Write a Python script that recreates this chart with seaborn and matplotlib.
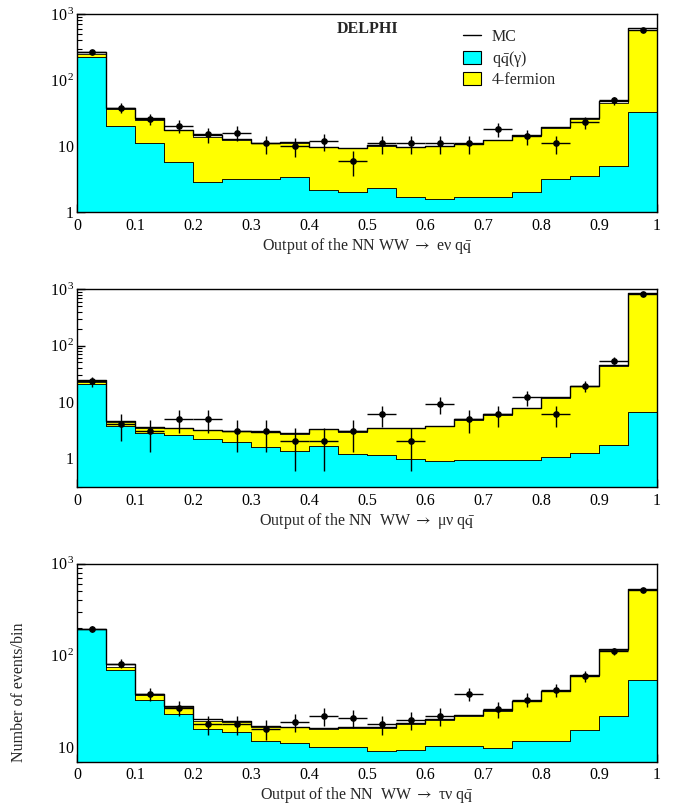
import numpy as np
import pandas as pd
import matplotlib
matplotlib.use("Agg")
import matplotlib.pyplot as plt
import seaborn as sns
from matplotlib.lines import Line2D
from matplotlib.patches import Patch
from matplotlib.ticker import FixedLocator, LogLocator, FuncFormatter, NullFormatter, MultipleLocator

# ---------------- data ----------------
bin_lo = [0.00, 0.05, 0.10, 0.15, 0.20, 0.25, 0.30, 0.35, 0.40, 0.45,
          0.50, 0.55, 0.60, 0.65, 0.70, 0.75, 0.80, 0.85, 0.90, 0.95]
bin_width = 0.05

# panel 1 : WW -> e nu qq
e_qq    = [222, 20.2, 11.0, 5.67, 2.89, 3.17, 3.13, 3.40, 2.16, 1.99,
           2.29, 1.67, 1.56, 1.67, 1.67, 2.04, 3.17, 3.48, 4.99, 33.3]
e_4f    = [29, 16.8, 13.6, 11.8, 10.7, 9.3, 7.9, 7.9, 7.5, 7.5,
           7.7, 8.0, 8.3, 9.0, 10.5, 12.4, 15.8, 22.5, 40.6, 545]
e_mc    = [265, 38.3, 26.4, 17.5, 14.7, 12.7, 11.3, 11.5, 9.7, 9.47,
           10.2, 9.8, 10.0, 10.8, 12.4, 14.6, 19.3, 26.4, 48.9, 605]
e_data  = [270, 38, 26, 20, 15, 16, 11, 10, 12, 6,
           11, 11, 11, 11, 18, 14, 11, 23, 49, 565]

# panel 2 : WW -> mu nu qq
mu_qq   = [21, 3.76, 2.78, 2.6, 2.21, 1.9, 1.57, 1.31, 1.66, 1.19,
           1.11, 0.946, 0.872, 0.934, 0.91, 0.91, 1.04, 1.24, 1.68, 6.58]
mu_4f   = [1.5, 0.54, 0.62, 0.86, 0.98, 1.1, 1.31, 1.41, 1.59, 1.76,
           2.29, 2.45, 2.83, 3.87, 4.99, 6.69, 10.76, 17.76, 41.3, 808]
mu_mc   = [24.4, 4.55, 3.56, 3.46, 3.19, 3.02, 2.90, 2.75, 3.28, 2.98,
           3.42, 3.42, 3.71, 4.87, 5.98, 7.74, 12.0, 19.3, 45, 860]
mu_data = [23, 4, 3, 5, 5, 3, 3, 2, 2, 3,
           6, 2, 9, 5, 6, 12, 6, 19, 54, 825]

# panel 3 : WW -> tau nu qq
tau_qq  = [194, 69.8, 32.8, 22.9, 15.7, 14.6, 11.9, 11.1, 10.1, 10.1,
           9.12, 9.27, 10.3, 10.3, 9.84, 11.9, 11.9, 15.6, 21.8, 54.7]
tau_4f  = [1, 6.2, 4.2, 4.4, 3.9, 4.4, 4.8, 5.4, 5.7, 6.0,
           7.1, 8.7, 9.6, 11.9, 15.4, 19.8, 28.9, 44.9, 93.2, 461]
tau_mc  = [197, 81.9, 38.2, 28.2, 20.2, 19.5, 17.1, 16.8, 16.1, 16.6,
           16.5, 18.3, 20.2, 22.5, 25.6, 32.3, 41.5, 61.5, 117, 533]
tau_data = [196, 82, 38, 27, 18, 18, 16, 19, 22, 21,
            18, 20, 22, 38, 26, 33, 42, 60, 111, 512]

xlabels = ["Output of the NN WW $\\rightarrow$ e\u03bd q$\\bar{\\rm q}$",
           "Output of the NN  WW $\\rightarrow$ \u03bc\u03bd q$\\bar{\\rm q}$",
           "Output of the NN  WW $\\rightarrow$ \u03c4\u03bd q$\\bar{\\rm q}$"]
ylims = [(1, 1000), (0.3, 1000), (7, 1000)]
ytick_vals = [[1, 10, 100, 1000], [1, 10, 100, 1000], [10, 100, 1000]]
legend_labels = ["MC", "q$\\bar{\\rm q}$(\u03b3)", "4-fermion"]

CYAN = "#00ffff"
YELLOW = "#ffff00"

# ---------------- style ----------------
sns.set_theme(style="ticks")
plt.rcParams["font.family"] = ["Liberation Serif", "DejaVu Serif"]
plt.rcParams["mathtext.fontset"] = "stix"
plt.rcParams["font.size"] = 11.5

fig = plt.figure(figsize=(6.75, 8.08), dpi=100)
bottoms = [0.7376, 0.3969, 0.0573]
axes = [fig.add_axes([0.1141, b, 0.8593, 0.2450]) for b in bottoms]

edges = bin_lo + [bin_lo[-1] + bin_width]
centers = [lo + bin_width / 2 for lo in bin_lo]

panels = [(e_qq, e_4f, e_mc, e_data),
          (mu_qq, mu_4f, mu_mc, mu_data),
          (tau_qq, tau_4f, tau_mc, tau_data)]


def ylab(v, pos):
    if v == 1:
        return r"$\mathregular{1}\ \ \ $"
    if v == 10:
        return r"$\mathregular{10}\ \ \ $"
    return r"$\mathregular{10^{\,%d}}$" % int(round(np.log10(v)))


for i, (ax, (qq, f4, mc, data)) in enumerate(zip(axes, panels)):
    df = pd.DataFrame({
        "x": centers * 2,
        "w": list(qq) + list(f4),
        "comp": ["qq"] * len(qq) + ["4f"] * len(f4),
    })
    sns.histplot(data=df, x="x", weights="w", hue="comp", hue_order=["4f", "qq"],
                 palette={"4f": YELLOW, "qq": CYAN}, bins=edges, multiple="stack",
                 element="step", fill=True, alpha=1, edgecolor="black",
                 linewidth=0.6, legend=False, ax=ax)
    sns.histplot(x=centers, weights=mc, bins=edges, element="step", fill=False,
                 color="black", linewidth=1.0, ax=ax)
    err = np.sqrt(np.array(data, dtype=float))
    ax.errorbar(centers, data, xerr=bin_width / 2, yerr=err, fmt="o",
                color="black", ms=3.8, elinewidth=1.0, capsize=0, zorder=5)

    ax.set_yscale("log")
    ax.set_xlim(0, 1)
    ax.set_ylim(*ylims[i])
    ax.xaxis.set_major_locator(MultipleLocator(0.1))
    ax.xaxis.set_minor_locator(MultipleLocator(0.02))
    ax.xaxis.set_major_formatter(FuncFormatter(lambda v, p: "%g" % round(v, 2)))
    ax.yaxis.set_major_locator(FixedLocator(ytick_vals[i]))
    ax.yaxis.set_minor_locator(LogLocator(base=10, subs=np.arange(2, 10)))
    ax.yaxis.set_major_formatter(FuncFormatter(ylab))
    ax.yaxis.set_minor_formatter(NullFormatter())
    ax.tick_params(axis="both", which="both", direction="in", top=False, right=False,
                   colors="black", labelsize=11.5)
    ax.tick_params(axis="both", which="major", length=6, width=1)
    ax.tick_params(axis="both", which="minor", length=3.5, width=0.8)
    ax.tick_params(axis="x", which="major", pad=4)
    ax.tick_params(axis="y", which="major", pad=2)
    for s in ax.spines.values():
        s.set_visible(True)
        s.set_color("black")
        s.set_linewidth(1.0)
    ax.set_ylabel("")
    ax.set_xlabel(xlabels[i], fontsize=11.5, labelpad=1.5)
    ax.set_facecolor("white")

# legend & label on top panel
ax0 = axes[0]
ax0.text(0.448, 0.925, "DELPHI", transform=ax0.transAxes, fontsize=11.5,
         fontweight="bold", ha="left", va="center")
handles = [Line2D([], [], color="black", lw=1.0),
           Patch(facecolor=CYAN, edgecolor="black", lw=0.8),
           Patch(facecolor=YELLOW, edgecolor="black", lw=0.8)]
ax0.legend(handles, legend_labels, loc="upper left", bbox_to_anchor=(0.655, 0.955),
           frameon=False, fontsize=11.5, handlelength=1.1, handleheight=0.9,
           labelspacing=0.2, handletextpad=0.7, borderaxespad=0)

fig.text(0.028, 0.1436, "Number of events/bin", rotation=90, ha="center",
         va="center", fontsize=11.5)

fig.savefig("out.png", dpi=100, facecolor="white")
